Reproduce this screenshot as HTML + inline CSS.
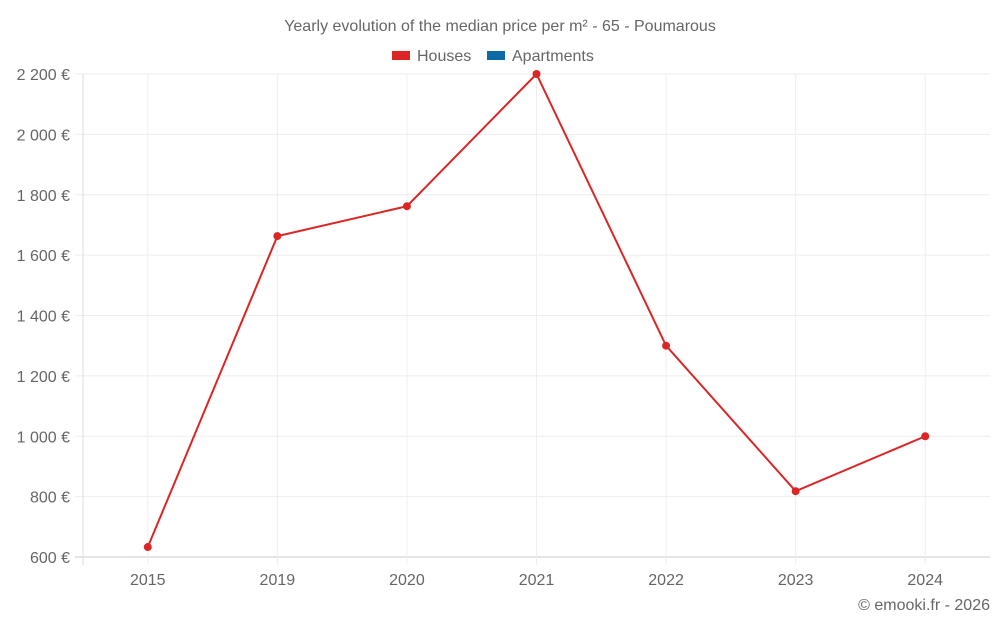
<!DOCTYPE html>
<html><head><meta charset="utf-8"><style>
body{margin:0;background:#fff;font-family:"Liberation Sans",sans-serif;}
svg text{font-family:"Liberation Sans",sans-serif;fill:#666;}
</style></head><body>
<svg width="1000" height="625" id="c">
<text x="500" y="31" text-anchor="middle" font-size="16">Yearly evolution of the median price per m² - 65 - Poumarous</text>
<g>
<rect x="392" y="51" width="18" height="9" fill="#dc2626"/>
<text x="417" y="61" font-size="16">Houses</text>
<rect x="487" y="51" width="18" height="9" fill="#0e6aa6"/>
<text x="512" y="61" font-size="16">Apartments</text>
</g>
<g id="grid"></g><g id="marks"></g>
<text x="990" y="610" text-anchor="end" font-size="16">© emooki.fr - 2026</text>
</svg>
<script>
const categories=["2015","2019","2020","2021","2022","2023","2024"];
const houses=[633,1663,1762,2200,1300,818,1000];
const yTicks=[600,800,1000,1200,1400,1600,1800,2000,2200];
const NS="http://www.w3.org/2000/svg";
const L=83,R=990,T=74,B=557,yMin=600,yMax=2200;
const bw=(R-L)/categories.length;
const x=i=>L+bw*(i+0.5);
const y=v=>B-(v-yMin)/(yMax-yMin)*(B-T);
const g=document.getElementById('grid'),m=document.getElementById('marks');
function el(t,a,p){const e=document.createElementNS(NS,t);for(const k in a)e.setAttribute(k,a[k]);p.appendChild(e);return e;}
yTicks.forEach(v=>{
const ln=el('line',{x1:75,x2:R,y1:y(v),y2:y(v),stroke:v===yMin?'#ccc':'#eee'},g);


const t=el('text',{x:70,y:y(v)+6,'text-anchor':'end','font-size':16},g);
t.textContent=v.toLocaleString('fr-FR').replace(/\u202f|\u00a0/g,' ')+' €';


});
const ax=el('line',{x1:L,x2:L,y1:T,y2:B+8,stroke:'#ddd'},g);


categories.forEach((c,i)=>{
const ln=el('line',{x1:x(i),x2:x(i),y1:T,y2:B+8,stroke:'#eee'},g);


const t=el('text',{x:x(i),y:585,'text-anchor':'middle','font-size':16},g);
t.textContent=c;


});
const pl=el('polyline',{points:houses.map((v,i)=>x(i)+','+y(v)).join(' '),fill:'none',stroke:'#dc2626','stroke-width':2},m);


houses.forEach((v,i)=>{
const p=el('circle',{cx:x(i),cy:y(v),r:4,fill:'#dc2626'},m);


});
</script>
</body></html>
